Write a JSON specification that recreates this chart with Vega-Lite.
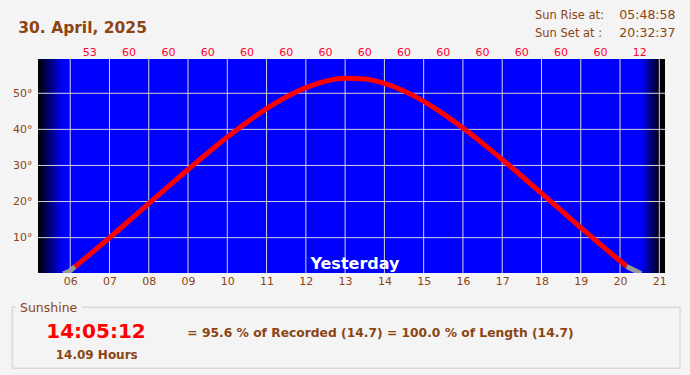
{
  "$schema": "https://vega.github.io/schema/vega-lite/v6.json",
  "width": 627,
  "height": 214,
  "autosize": {"type": "none"},
  "padding": {"left": 38, "top": 59, "right": 25, "bottom": 102},
  "background": "#f4f4f4",
  "view": {"fill": "#0000ff", "stroke": null},
  "config": {"font": "DejaVu Sans"},
  "datasets": {
    "one": [{}],
    "elev": [
      {"seg": "pre", "t": 5.82, "e": 0},
      {"seg": "pre", "t": 6.0, "e": 0.88},
      {"seg": "pre", "t": 6.12, "e": 1.94},
      {"seg": "sun", "t": 6.12, "e": 1.94},
      {"seg": "sun", "t": 6.5, "e": 5.36},
      {"seg": "sun", "t": 7.0, "e": 9.97},
      {"seg": "sun", "t": 7.5, "e": 14.68},
      {"seg": "sun", "t": 8.0, "e": 19.43},
      {"seg": "sun", "t": 8.5, "e": 24.19},
      {"seg": "sun", "t": 9.0, "e": 28.88},
      {"seg": "sun", "t": 9.5, "e": 33.46},
      {"seg": "sun", "t": 10.0, "e": 37.87},
      {"seg": "sun", "t": 10.5, "e": 41.99},
      {"seg": "sun", "t": 11.0, "e": 45.74},
      {"seg": "sun", "t": 11.5, "e": 48.98},
      {"seg": "sun", "t": 12.0, "e": 51.56},
      {"seg": "sun", "t": 12.5, "e": 53.33},
      {"seg": "sun", "t": 13.0, "e": 54.14},
      {"seg": "sun", "t": 13.5, "e": 53.93},
      {"seg": "sun", "t": 14.0, "e": 52.72},
      {"seg": "sun", "t": 14.5, "e": 50.62},
      {"seg": "sun", "t": 15.0, "e": 47.76},
      {"seg": "sun", "t": 15.5, "e": 44.3},
      {"seg": "sun", "t": 16.0, "e": 40.38},
      {"seg": "sun", "t": 16.5, "e": 36.13},
      {"seg": "sun", "t": 17.0, "e": 31.65},
      {"seg": "sun", "t": 17.5, "e": 27.01},
      {"seg": "sun", "t": 18.0, "e": 22.28},
      {"seg": "sun", "t": 18.5, "e": 17.53},
      {"seg": "sun", "t": 19.0, "e": 12.79},
      {"seg": "sun", "t": 19.5, "e": 8.12},
      {"seg": "sun", "t": 20.0, "e": 3.55},
      {"seg": "sun", "t": 20.17, "e": 2.03},
      {"seg": "post", "t": 20.17, "e": 2.03},
      {"seg": "post", "t": 20.54, "e": 0}
    ],
    "minutes": [
      {"h": 6.5, "m": 53}, {"h": 7.5, "m": 60}, {"h": 8.5, "m": 60}, {"h": 9.5, "m": 60},
      {"h": 10.5, "m": 60}, {"h": 11.5, "m": 60}, {"h": 12.5, "m": 60}, {"h": 13.5, "m": 60},
      {"h": 14.5, "m": 60}, {"h": 15.5, "m": 60}, {"h": 16.5, "m": 60}, {"h": 17.5, "m": 60},
      {"h": 18.5, "m": 60}, {"h": 19.5, "m": 60}, {"h": 20.5, "m": 12}
    ],
    "hours": [
      {"h": 6}, {"h": 7}, {"h": 8}, {"h": 9}, {"h": 10}, {"h": 11}, {"h": 12}, {"h": 13},
      {"h": 14}, {"h": 15}, {"h": 16}, {"h": 17}, {"h": 18}, {"h": 19}, {"h": 20}, {"h": 21}
    ],
    "degs": [{"d": 10}, {"d": 20}, {"d": 30}, {"d": 40}, {"d": 50}],
    "dawn": [{"a": 5.18, "b": 5.82}],
    "dusk": [{"a": 20.54, "b": 21.02}],
    "dark": [{"a": 21.02, "b": 21.145}]
  },
  "layer": [
    {
      "data": {"name": "dawn"},
      "mark": {"type": "rect", "stroke": null, "fill": {"gradient": "linear", "x1": 0, "y1": 0, "x2": 1, "y2": 0, "stops": [{"offset": 0, "color": "#000000"}, {"offset": 1, "color": "#0000ff"}]}},
      "encoding": {
        "x": {"field": "a", "type": "quantitative", "scale": {"domain": [5.18, 21.145], "nice": false, "zero": false},
          "axis": {"values": [6, 7, 8, 9, 10, 11, 12, 13, 14, 15, 16, 17, 18, 19, 20, 21], "labelExpr": "datum.value < 10 ? '0' + datum.value : '' + datum.value", "title": null, "grid": false, "ticks": false, "tickSize": 0, "domain": false, "labelPadding": 2, "labelFontSize": 11, "labelColor": "#8B4513", "labelFlush": false, "labelOverlap": false, "labelBound": false}},
        "x2": {"field": "b"},
        "y": {"datum": 0.2, "type": "quantitative", "scale": {"domain": [0.2, 59.5], "nice": false, "zero": false},
          "axis": {"values": [10, 20, 30, 40, 50], "labelExpr": "datum.value + '°'", "title": null, "grid": false, "ticks": false, "tickSize": 0, "domain": false, "labelPadding": 6, "labelFontSize": 11, "labelColor": "#8B4513", "labelFlush": false, "labelOverlap": false}},
        "y2": {"datum": 59.5}
      }
    },
    {
      "data": {"name": "dusk"},
      "mark": {"type": "rect", "stroke": null, "fill": {"gradient": "linear", "x1": 0, "y1": 0, "x2": 1, "y2": 0, "stops": [{"offset": 0, "color": "#0000ff"}, {"offset": 1, "color": "#000000"}]}},
      "encoding": {
        "x": {"field": "a", "type": "quantitative"},
        "x2": {"field": "b"},
        "y": {"datum": 0.2, "type": "quantitative"},
        "y2": {"datum": 59.5}
      }
    },
    {
      "data": {"name": "dark"},
      "mark": {"type": "rect", "stroke": null, "fill": "#000000"},
      "encoding": {
        "x": {"field": "a", "type": "quantitative"},
        "x2": {"field": "b"},
        "y": {"datum": 0.2, "type": "quantitative"},
        "y2": {"datum": 59.5}
      }
    },
    {
      "data": {"name": "hours"},
      "mark": {"type": "rule", "color": "#d4d4d4", "strokeWidth": 1},
      "encoding": {"x": {"field": "h", "type": "quantitative"}}
    },
    {
      "data": {"name": "degs"},
      "mark": {"type": "rule", "color": "#d4d4d4", "strokeWidth": 1},
      "encoding": {"y": {"field": "d", "type": "quantitative"}}
    },
    {
      "data": {"name": "elev"},
      "mark": {"type": "line", "strokeWidth": 5, "strokeCap": "butt", "interpolate": "monotone", "clip": true},
      "encoding": {
        "x": {"field": "t", "type": "quantitative"},
        "y": {"field": "e", "type": "quantitative"},
        "detail": {"field": "seg"},
        "color": {"field": "seg", "type": "nominal", "scale": {"domain": ["pre", "sun", "post"], "range": ["#999999", "#ff0000", "#999999"]}, "legend": null}
      }
    },
    {
      "data": {"name": "minutes"},
      "mark": {"type": "text", "color": "#ff0033", "fontSize": 11, "align": "center", "baseline": "alphabetic"},
      "encoding": {
        "x": {"field": "h", "type": "quantitative"},
        "y": {"datum": 60.45, "type": "quantitative"},
        "text": {"field": "m", "type": "quantitative"}
      }
    },
    {
      "data": {"name": "one"},
      "mark": {"type": "text", "text": "Yesterday", "color": "#ffffff", "fontSize": 16, "fontWeight": "bold", "align": "center", "baseline": "alphabetic"},
      "encoding": {"x": {"datum": 13.25, "type": "quantitative"}, "y": {"datum": 1.31, "type": "quantitative"}}
    },
    {
      "data": {"name": "one"},
      "mark": {"type": "text", "text": "30. April, 2025", "color": "#8B4513", "fontSize": 15.5, "fontWeight": "bold", "align": "left", "baseline": "alphabetic"},
      "encoding": {"x": {"datum": 4.678, "type": "quantitative"}, "y": {"datum": 66.62, "type": "quantitative"}}
    },
    {
      "data": {"name": "one"},
      "mark": {"type": "text", "text": "Sun Rise at:", "color": "#8B4513", "fontSize": 11.5, "align": "left", "baseline": "alphabetic"},
      "encoding": {"x": {"datum": 17.835, "type": "quantitative"}, "y": {"datum": 70.5, "type": "quantitative"}}
    },
    {
      "data": {"name": "one"},
      "mark": {"type": "text", "text": "Sun Set at :", "color": "#8B4513", "fontSize": 11.5, "align": "left", "baseline": "alphabetic"},
      "encoding": {"x": {"datum": 17.835, "type": "quantitative"}, "y": {"datum": 65.68, "type": "quantitative"}}
    },
    {
      "data": {"name": "one"},
      "mark": {"type": "text", "text": "05:48:58", "color": "#8B4513", "fontSize": 12.5, "align": "left", "baseline": "alphabetic"},
      "encoding": {"x": {"datum": 19.982, "type": "quantitative"}, "y": {"datum": 70.5, "type": "quantitative"}}
    },
    {
      "data": {"name": "one"},
      "mark": {"type": "text", "text": "20:32:37", "color": "#8B4513", "fontSize": 12.5, "align": "left", "baseline": "alphabetic"},
      "encoding": {"x": {"datum": 19.982, "type": "quantitative"}, "y": {"datum": 65.68, "type": "quantitative"}}
    },
    {
      "data": {"name": "one"},
      "mark": {"type": "rect", "fill": null, "stroke": "#dadada", "strokeWidth": 1.5, "clip": false},
      "encoding": {"x": {"datum": 4.526, "type": "quantitative"}, "x2": {"datum": 21.527}, "y": {"datum": -9.3, "type": "quantitative"}, "y2": {"datum": -26.21}}
    },
    {
      "data": {"name": "one"},
      "mark": {"type": "rect", "fill": "#f4f4f4", "stroke": null},
      "encoding": {"x": {"datum": 4.62, "type": "quantitative"}, "x2": {"datum": 6.3}, "y": {"datum": -8.39, "type": "quantitative"}, "y2": {"datum": -10.05}}
    },
    {
      "data": {"name": "one"},
      "mark": {"type": "text", "text": "Sunshine", "color": "#8B4513", "fontSize": 12.5, "align": "left", "baseline": "alphabetic"},
      "encoding": {"x": {"datum": 4.722, "type": "quantitative"}, "y": {"datum": -10.52, "type": "quantitative"}}
    },
    {
      "data": {"name": "one"},
      "mark": {"type": "text", "text": "14:05:12", "color": "#ff0000", "fontSize": 20, "fontWeight": "bold", "align": "center", "baseline": "alphabetic"},
      "encoding": {"x": {"datum": 6.657, "type": "quantitative"}, "y": {"datum": -17.89, "type": "quantitative"}}
    },
    {
      "data": {"name": "one"},
      "mark": {"type": "text", "text": "14.09 Hours", "color": "#8B4513", "fontSize": 12, "fontWeight": "bold", "align": "center", "baseline": "alphabetic"},
      "encoding": {"x": {"datum": 6.675, "type": "quantitative"}, "y": {"datum": -23.71, "type": "quantitative"}}
    },
    {
      "data": {"name": "one"},
      "mark": {"type": "text", "text": "= 95.6 % of Recorded (14.7) = 100.0 % of Length (14.7)", "color": "#8B4513", "fontSize": 12.3, "fontWeight": "bold", "align": "left", "baseline": "alphabetic"},
      "encoding": {"x": {"datum": 8.982, "type": "quantitative"}, "y": {"datum": -17.62, "type": "quantitative"}}
    }
  ]
}
